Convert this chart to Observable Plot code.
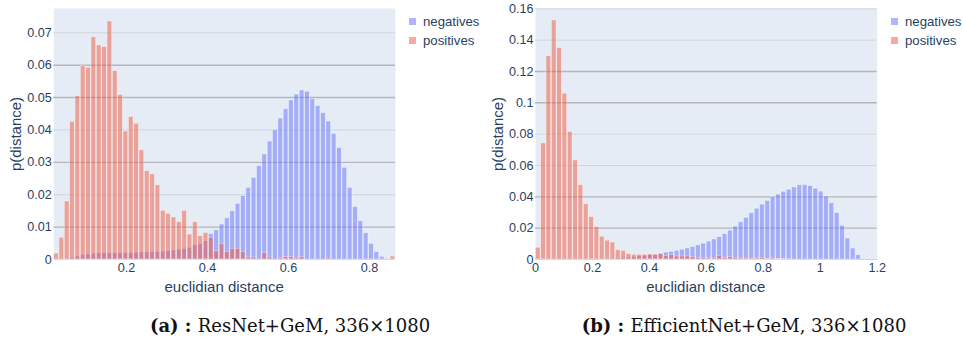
<!DOCTYPE html>
<html><head><meta charset="utf-8">
<script src="https://cdn.jsdelivr.net/npm/d3@7"></script>
<script src="https://cdn.jsdelivr.net/npm/@observablehq/plot@0.6"></script>
<style>
body{margin:0;background:#fff;}
#root{position:relative;width:963px;height:347px;overflow:hidden;font-family:"Liberation Sans",Arial,sans-serif;color:#2a3f5f;background:#fff;}
.panel{position:absolute;top:0;height:300px;overflow:visible;}
.panel svg{position:absolute;left:0;top:0;}
.lg{position:absolute;font-size:13.2px;white-space:nowrap;line-height:14px;}
.sw{position:absolute;width:7px;height:7px;}
.title{position:absolute;font-size:15px;white-space:nowrap;line-height:16px;}
.ytitle{transform:translate(-50%,-50%) rotate(-90deg);}
.xtitle{transform:translate(-50%,-50%);}
.cap{position:absolute;font-family:"DejaVu Serif","Liberation Serif",serif;font-size:18px;white-space:nowrap;color:#111;transform:translateX(-50%);line-height:24px;}
</style></head><body><div id="root"></div>
<script>
// ---- data ----
const seriesNames = ["negatives", "positives"];
const xTitle = "euclidian distance";
const yTitle = "p(distance)";

// Panel (a): 64 bins starting at leftX0 with width leftBin
const leftX0 = 0.0205, leftBin = 0.01318;
const leftNeg = [0, 0, 0.0002, 0.0005, 0.0009, 0.0013, 0.0015, 0.0018, 0.0019, 0.0019,
  0.0019, 0.0019, 0.0019, 0.002, 0.002, 0.0021, 0.0022, 0.0022, 0.0023, 0.0023,
  0.0024, 0.0026, 0.0028, 0.003, 0.0032, 0.0036, 0.0044, 0.0047, 0.0056, 0.0078,
  0.009, 0.0108, 0.0127, 0.0149, 0.0172, 0.0196, 0.0221, 0.0252, 0.0288, 0.0324,
  0.0364, 0.0399, 0.0435, 0.0464, 0.0491, 0.0509, 0.0522, 0.0518, 0.0495, 0.0474,
  0.0452, 0.0426, 0.0388, 0.0344, 0.0283, 0.0221, 0.0162, 0.0118, 0.0081, 0.0048,
  0.0023, 0.0008, 0.0002, 0];
const leftPos = [0.0018, 0.0067, 0.0179, 0.0425, 0.0504, 0.0597, 0.0592, 0.0686, 0.0661, 0.0656,
  0.0735, 0.0582, 0.0508, 0.0395, 0.0440, 0.0419, 0.0337, 0.0273, 0.0263, 0.0229,
  0.0150, 0.0141, 0.0130, 0.0115, 0.0150, 0.0077, 0.0115, 0.0072, 0.0082, 0.0067,
  0.0025, 0.0047, 0.0023, 0.0033, 0.0033, 0.0023, 0.0006, 0.0006, 0, 0.0019,
  0.0006, 0, 0.0005, 0.0007, 0.0007, 0.0005, 0.0007, 0, 0, 0,
  0, 0.0005, 0, 0, 0, 0, 0, 0, 0, 0,
  0, 0, 0, 0.0009];
const leftXDomain = [0.0205, 0.864];
const leftYDomain = [0, 0.0775];
const leftXTicks = [0.2, 0.4, 0.6, 0.8];
const leftYTicks = [0, 0.01, 0.02, 0.03, 0.04, 0.05, 0.06, 0.07];
const leftDarkGrid = [0.01, 0.03, 0.05, 0.06];

// Panel (b): 64 bins starting at rightX0 with width rightBin
const rightX0 = 0, rightBin = 0.01875;
const rightNeg = [0, 0, 0, 0, 0, 0, 0, 0, 0, 0,
  0, 0, 0, 0.0003, 0.0005, 0.0008, 0.001, 0.0013, 0.0016, 0.002,
  0.0024, 0.0028, 0.0031, 0.0036, 0.0044, 0.0049, 0.0055, 0.0062, 0.0071, 0.008,
  0.009, 0.0101, 0.0114, 0.0128, 0.0143, 0.0162, 0.0184, 0.021, 0.0238, 0.0266,
  0.0295, 0.0324, 0.035, 0.0373, 0.0397, 0.0414, 0.0432, 0.0445, 0.046, 0.0474,
  0.0476, 0.0468, 0.0452, 0.0433, 0.0402, 0.0359, 0.0296, 0.0215, 0.0134, 0.007,
  0.0027, 0, 0, 0];
const rightPos = [0.0075, 0.0741, 0.1297, 0.1526, 0.1348, 0.1058, 0.0814, 0.0632, 0.0474, 0.0353,
  0.0271, 0.0207, 0.0145, 0.0120, 0.0108, 0.0060, 0.0055, 0.0035, 0.0030, 0.0030,
  0.0030, 0.0032, 0.0030, 0.0036, 0.0023, 0.0028, 0.0019, 0.0019, 0.0019, 0.0015,
  0.0010, 0.0010, 0.0006, 0.0006, 0.0023, 0.0010, 0.0015, 0.0010, 0.0006, 0.0006,
  0.0006, 0.0006, 0.0010, 0.0004, 0.0006, 0.0003, 0.0003, 0.0002, 0, 0,
  0, 0, 0, 0, 0, 0, 0, 0, 0, 0,
  0, 0, 0, 0];
const rightXDomain = [0, 1.2];
const rightYDomain = [0, 0.1602];
const rightXTicks = [0, 0.2, 0.4, 0.6, 0.8, 1, 1.2];
const rightYTicks = [0, 0.02, 0.04, 0.06, 0.08, 0.1, 0.12, 0.14, 0.16];
const rightDarkGrid = [0.02, 0.04, 0.1, 0.12];

const captionLabels = ["(a)", "(b)"];
const captionTexts = ["ResNet+GeM, 336×1080", "EfficientNet+GeM, 336×1080"];

// ---- drawing ----
const negColor = "#636efa", posColor = "#ef553b";
const root = document.getElementById("root");

function rows(vals, x0, bin) {
  return vals.map((v, i) => ({x1: x0 + i * bin, x2: x0 + (i + 1) * bin, y: v}));
}

function panel(o) {
  const div = document.createElement("div");
  div.className = "panel";
  div.style.left = o.left + "px";
  div.style.width = o.width + "px";
  root.appendChild(div);
  const barOpts = {x1: "x1", x2: "x2", y: "y", fillOpacity: 0.5, stroke: "#ffffff", strokeOpacity: 0.5, strokeWidth: 0.7, insetLeft: 0.35, insetRight: 0.35};
  const chart = Plot.plot({
    width: o.width, height: 300,
    marginLeft: o.ml, marginRight: o.mr, marginTop: 8, marginBottom: 41,
    x: {domain: o.xDomain},
    y: {domain: o.yDomain},
    style: {fontFamily: '"Liberation Sans", Arial, sans-serif', fontSize: "12.6px", color: "#2a3f5f", background: "transparent"},
    marks: [
      Plot.frame({fill: "#e5ecf6", stroke: null}),
      Plot.ruleY(o.yTicks.filter(t => t > 0), {y: d => d,
        stroke: d => o.dark.includes(d) ? "#b4b6b9" : "#d2d6dc",
        strokeWidth: d => o.dark.includes(d) ? 1.4 : 1}),
      Plot.ruleY([0], {stroke: "#cfd3d9"}),
      Plot.rectY(rows(o.neg, o.x0, o.bin), {...barOpts, fill: negColor}),
      Plot.rectY(rows(o.pos, o.x0, o.bin), {...barOpts, fill: posColor}),
      Plot.axisX({ticks: o.xTicks, tickSize: 0, tickPadding: 4, tickFormat: d => String(d), label: null}),
      Plot.axisY({ticks: o.yTicks, tickSize: 0, tickPadding: 2, tickFormat: d => String(d), label: null})
    ]
  });
  div.appendChild(chart);
  const plotLeft = o.ml, plotRight = o.width - o.mr;
  const xt = document.createElement("div");
  xt.className = "title xtitle";
  xt.textContent = xTitle;
  xt.style.left = ((plotLeft + plotRight) / 2) + "px";
  xt.style.top = "287px";
  div.appendChild(xt);
  const yt = document.createElement("div");
  yt.className = "title ytitle";
  yt.textContent = yTitle;
  yt.style.left = o.ytx + "px";
  yt.style.top = "133.5px";
  div.appendChild(yt);
  seriesNames.forEach((name, i) => {
    const sw = document.createElement("div");
    sw.className = "sw";
    sw.style.background = i === 0 ? negColor : posColor;
    sw.style.opacity = 0.5;
    sw.style.left = o.lgx + "px";
    sw.style.top = (18 + i * 19) + "px";
    div.appendChild(sw);
    const t = document.createElement("div");
    t.className = "lg";
    t.textContent = name;
    t.style.left = (o.lgx + 14) + "px";
    t.style.top = (14.5 + i * 19) + "px";
    div.appendChild(t);
  });
}

panel({left: 0, width: 480, ml: 53.3, mr: 85, neg: leftNeg, pos: leftPos, x0: leftX0, bin: leftBin,
  xDomain: leftXDomain, yDomain: leftYDomain, xTicks: leftXTicks, yTicks: leftYTicks, dark: leftDarkGrid,
  ytx: 16, lgx: 409});
panel({left: 480, width: 483, ml: 55, mr: 86.3, neg: rightNeg, pos: rightPos, x0: rightX0, bin: rightBin,
  xDomain: rightXDomain, yDomain: rightYDomain, xTicks: rightXTicks, yTicks: rightYTicks, dark: rightDarkGrid,
  ytx: 18, lgx: 411});

const capCenters = [290, 744];
captionLabels.forEach((lab, i) => {
  const c = document.createElement("div");
  c.className = "cap";
  c.style.left = capCenters[i] + "px";
  c.style.top = "314px";
  const b = document.createElement("b");
  b.textContent = lab + " : ";
  c.appendChild(b);
  c.appendChild(document.createTextNode(" " + captionTexts[i]));
  root.appendChild(c);
});
</script></body></html>
